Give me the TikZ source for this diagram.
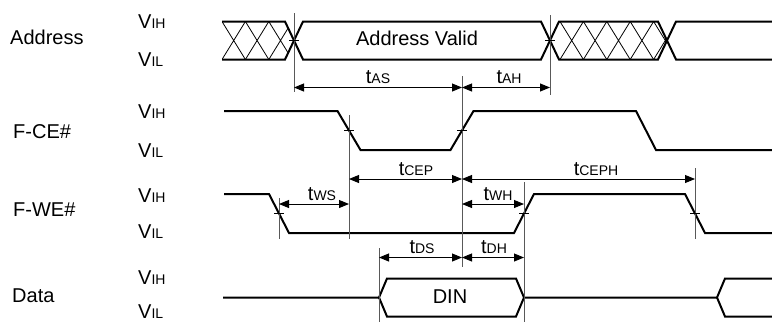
\documentclass[tikz,border=0pt]{standalone}
\usepackage{fontspec}
\setmainfont{Liberation Sans}
\usetikzlibrary{arrows.meta}

% level / timing names: big letter, small caps-size rest
\newcommand{\sig}[2]{#1{\fontsize{14}{16}\selectfont #2}}

\begin{document}
\begin{tikzpicture}[x=1pt, y=-1pt, >={Triangle[length=10pt,width=8pt]},
    wave/.style={line width=2pt},
    hatch/.style={line width=0.8pt},
    marker/.style={black!65, line width=1pt},
    dim/.style={<->, line width=0.9pt},
    tick/.style={line width=0.8pt},
    lbl/.style={anchor=base west, inner sep=0pt, font=\fontsize{20}{24}\selectfont},
    tlbl/.style={anchor=base, inner sep=0pt, font=\fontsize{20}{24}\selectfont}]
  \useasboundingbox (0,0) rectangle (772,322);

  % signal names and levels
  \node[lbl] (addr) at (10,44) {Address};
  \node[lbl] (ce) at (13,138) {F-CE\#};
  \node[lbl] (we) at (13,216) {F-WE\#};
  \node[lbl] (data) at (12,302) {Data};
  \foreach \n/\y in {addr/28.5, ce/118, we/202, data/284}
    \node[lbl] (\n-vih) at (138,\y) {\sig{V}{IH}};
  \foreach \n/\y in {addr/66.5, ce/157, we/238, data/318}
    \node[lbl] (\n-vil) at (138,\y) {\sig{V}{IL}};

  % address bus
  \begin{scope}
    \clip (222,21.5) -- (285,21.5) -- (294,40.5) -- (285,59.5) -- (222,59.5) -- cycle;
    \foreach \k in {0,...,3}
      \draw[hatch] (222+\k*23.4,21.5) -- ++(23.4,38) (222+\k*23.4,59.5) -- ++(23.4,-38);
  \end{scope}
  \begin{scope}
    \clip (550,40.5) -- (559,21.5) -- (658,21.5) -- (667,40.5) -- (658,59.5) -- (559,59.5) -- cycle;
    \foreach \k in {0,...,4}
      \draw[hatch] (560+\k*23.4,21.5) -- ++(23.4,38) (560+\k*23.4,59.5) -- ++(23.4,-38);
  \end{scope}
  \draw[wave] (222,21.5) -- (285,21.5) -- (303,59.5) -- (541,59.5) -- (559,21.5)
    -- (658,21.5) -- (676,59.5) -- (772,59.5);
  \draw[wave] (222,59.5) -- (285,59.5) -- (303,21.5) -- (541,21.5) -- (559,59.5)
    -- (658,59.5) -- (676,21.5) -- (772,21.5);
  \node[tlbl] (valid) at (417,45) {Address Valid};

  % chip enable and write enable
  \draw[wave] (224,111) -- (337.5,111) -- (360.5,150) -- (450.5,150) -- (473.5,111)
    -- (636,111) -- (656,150) -- (772,150);
  \draw[wave] (224,194) -- (269,194) -- (289,233) -- (514,233) -- (534,194)
    -- (685,194) -- (705,233) -- (772,233);

  % data bus
  \draw[wave] (223,297.5) -- (379,297.5) -- (387,278.5) -- (516,278.5) -- (524,297.5)
    -- (717,297.5) -- (725,278.5) -- (772,278.5);
  \draw[wave] (379,297.5) -- (387,316.5) -- (516,316.5) -- (524,297.5);
  \draw[wave] (717,297.5) -- (725,316.5) -- (772,316.5);
  \node[tlbl] (din) at (450,303) {DIN};

  % reference lines
  \foreach \n/\x/\ya/\yb in {as/294/13/92, ah/550/15/95, cs/349/115/239, ch/462/76/267,
      ws/279/198/239, wh/524/182/322, cph/695/168/239, ds/379/248/322} {
    \coordinate (\n-t) at (\x,\ya);
    \coordinate (\n-b) at (\x,\yb);
    \draw[marker] (\n-t) -- (\n-b);
  }

  % crossing ticks
  \foreach \x/\y in {294/40.5, 550/40.5, 349/130.5, 462/130.5, 279/213.5, 524/213.5, 695/213.5}
    \draw[tick] (\x-5,\y) -- (\x+5,\y);

  % timing parameters
  \coordinate (yA) at (0,87.5);
  \coordinate (yC) at (0,179);
  \coordinate (yW) at (0,204);
  \coordinate (yD) at (0,257.5);
  \draw[dim] (as-t |- yA) -- (ch-t |- yA);
  \draw[dim] (ch-t |- yA) -- (ah-t |- yA);
  \draw[dim] (cs-t |- yC) -- (ch-t |- yC);
  \draw[dim] (ch-t |- yC) -- (cph-t |- yC);
  \draw[dim] (ws-t |- yW) -- (cs-t |- yW);
  \draw[dim] (ch-t |- yW) -- (wh-t |- yW);
  \draw[dim] (ds-t |- yD) -- (ch-t |- yD);
  \draw[dim] (ch-t |- yD) -- (wh-t |- yD);

  \node[tlbl] (tas) at (378,83.5) {\sig{t}{AS}};
  \node[tlbl] (tah) at (509,83.5) {\sig{t}{AH}};
  \node[tlbl] (tcep) at (416,175) {\sig{t}{CEP}};
  \node[tlbl] (tceph) at (596,175) {\sig{t}{CEPH}};
  \node[tlbl] (tws) at (322,200) {\sig{t}{WS}};
  \node[tlbl] (twh) at (498,200) {\sig{t}{WH}};
  \node[tlbl] (tds) at (422,253.5) {\sig{t}{DS}};
  \node[tlbl] (tdh) at (494,253.5) {\sig{t}{DH}};
\end{tikzpicture}
\end{document}
